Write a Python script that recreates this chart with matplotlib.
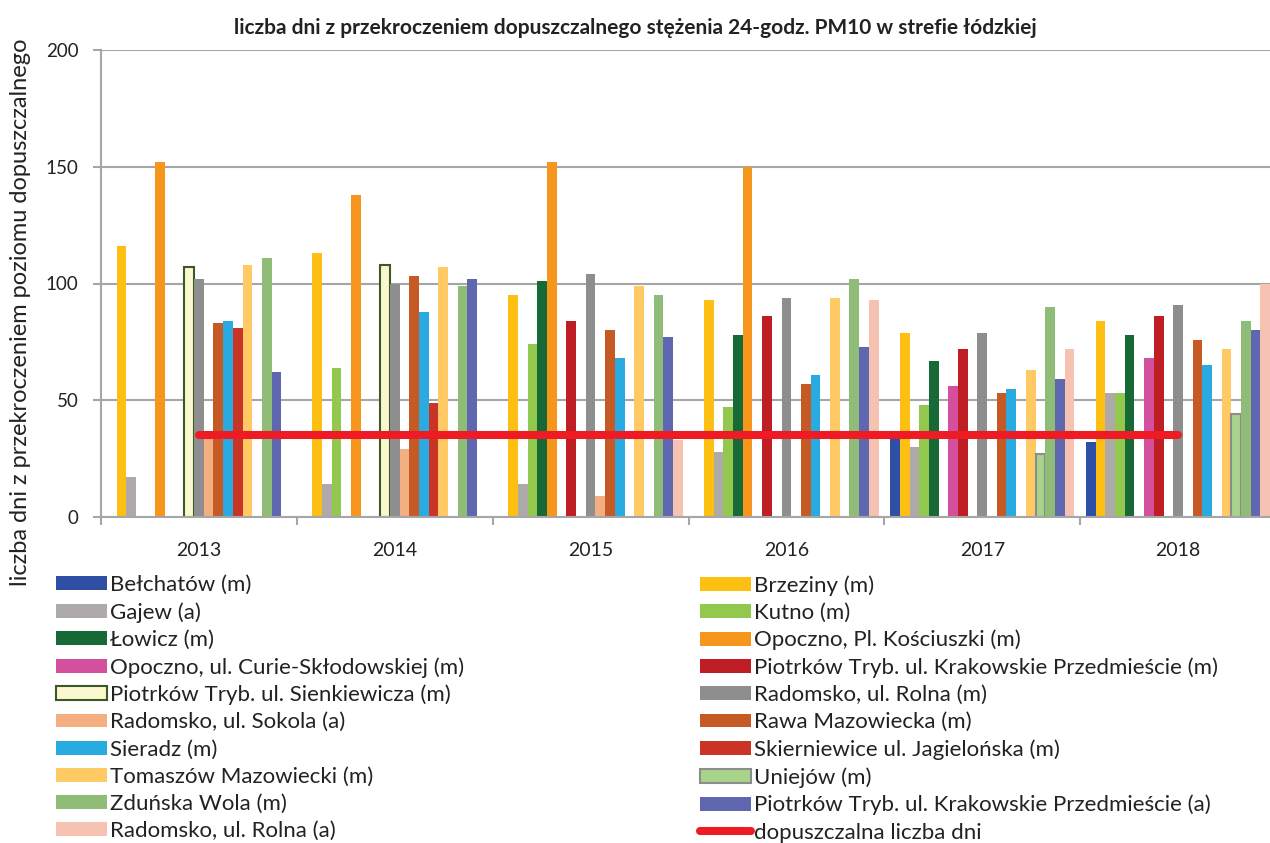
import numpy as np
import matplotlib
matplotlib.use("Agg")
import matplotlib.pyplot as plt

plt.rcParams["font.family"] = ["Lato", "DejaVu Sans"]

nan = np.nan
years = ["2013", "2014", "2015", "2016", "2017", "2018"]

# days over the 24h PM10 limit, per station, 2013..2018 (nan = no measurement)
belchatow = [nan, nan, nan, nan, 34, 32]
brzeziny = [116, 113, 95, 93, 79, 84]
gajew = [17, 14, 14, 28, 30, 53]
kutno = [nan, 64, 74, 47, 48, 53]
lowicz = [nan, nan, 101, 78, 67, 78]
opoczno_pl = [152, 138, 152, 150, nan, nan]
opoczno_curie = [nan, nan, nan, nan, 56, 68]
piotrkow_krak_m = [nan, nan, 84, 86, 72, 86]
piotrkow_sienk = [107, 108, nan, nan, nan, nan]
radomsko_rolna_m = [102, 100, 104, 94, 79, 91]
radomsko_sokola = [34, 29, 9, nan, nan, nan]
rawa = [83, 103, 80, 57, 53, 76]
sieradz = [84, 88, 68, 61, 55, 65]
skierniewice = [81, 49, nan, nan, nan, nan]
tomaszow = [108, 107, 99, 94, 63, 72]
uniejow = [nan, nan, nan, nan, 27, 44]
zdunska = [111, 99, 95, 102, 90, 84]
piotrkow_krak_a = [62, 102, 77, 73, 59, 80]
radomsko_rolna_a = [nan, nan, 33, 93, 72, 100]

limit_days = [35, 35, 35, 35, 35, 35]

series = [
    ("Bełchatów (m)", belchatow, "#2E4FA3", None),
    ("Brzeziny (m)", brzeziny, "#FDBF11", None),
    ("Gajew (a)", gajew, "#AEAAAA", None),
    ("Kutno (m)", kutno, "#92C84E", None),
    ("Łowicz (m)", lowicz, "#176935", None),
    ("Opoczno, Pl. Kościuszki (m)", opoczno_pl, "#F7961D", None),
    ("Opoczno, ul. Curie-Skłodowskiej (m)", opoczno_curie, "#D5509C", None),
    ("Piotrków Tryb. ul. Krakowskie Przedmieście (m)", piotrkow_krak_m, "#BE1E24", None),
    ("Piotrków Tryb. ul. Sienkiewicza (m)", piotrkow_sienk, "#FAF7CF", "#3A5A25"),
    ("Radomsko, ul. Rolna (m)", radomsko_rolna_m, "#8E8E8E", None),
    ("Radomsko, ul. Sokola (a)", radomsko_sokola, "#F3AE82", None),
    ("Rawa Mazowiecka (m)", rawa, "#C55A25", None),
    ("Sieradz (m)", sieradz, "#29ABE2", None),
    ("Skierniewice ul. Jagielońska (m)", skierniewice, "#CA3427", None),
    ("Tomaszów Mazowiecki (m)", tomaszow, "#FFCA64", None),
    ("Uniejów (m)", uniejow, "#A8D38A", "#8C8C8C"),
    ("Zduńska Wola (m)", zdunska, "#8FBC76", None),
    ("Piotrków Tryb. ul. Krakowskie Przedmieście (a)", piotrkow_krak_a, "#5F67B0", None),
    ("Radomsko, ul. Rolna (a)", radomsko_rolna_a, "#F6C2B1", None),
]

fig = plt.figure(figsize=(12.7, 8.43), dpi=100)
ax = fig.add_axes([101 / 1270, 1 - 517 / 843, 1175 / 1270, 467 / 843])

x = np.arange(len(years))
w = 0.0495
n = len(series)
handles = []
for j, (name, vals, color, edge) in enumerate(series):
    offs = (j - (n - 1) / 2) * w
    if edge:
        b = ax.bar(x + offs, vals, w, color=color, edgecolor=edge, linewidth=1.5,
                   label=name, zorder=2)
    else:
        b = ax.bar(x + offs, vals, w, color=color, label=name, zorder=2)
    handles.append(b)

line, = ax.plot(x, limit_days, color="#ED1C24", lw=5.8, solid_capstyle="round",
                zorder=3, label="dopuszczalna liczba dni")

ax.set_xlim(-0.5, 5.5)
ax.set_ylim(0, 200)
ax.set_yticks([0, 50, 100, 150, 200])
ax.yaxis.grid(True, color="#A6A6A6", lw=1.5, zorder=0)
ax.set_axisbelow(True)
ax.set_xticks(x)
ax.set_xticklabels(years)
ax.set_xticks(np.arange(-0.5, 6, 1), minor=True)
ax.tick_params(axis="x", which="major", length=0, labelsize=14, pad=18, colors="#222222")
ax.tick_params(axis="x", which="minor", length=5.8, width=1.5, color="#A6A6A6")
ax.tick_params(axis="y", length=5.8, width=1.5, color="#A6A6A6", labelsize=13.5, pad=10.5,
               labelcolor="#222222")
for s in ["top", "right"]:
    ax.spines[s].set_visible(False)
for s in ["left", "bottom"]:
    ax.spines[s].set_color("#A6A6A6")
    ax.spines[s].set_linewidth(1.5)

ax.set_ylabel("liczba dni z przekroczeniem poziomu dopuszczalnego", fontsize=17,
              color="#222222")
ax.yaxis.set_label_coords(-0.0595, 0.439)
fig.text(0.5, 1 - 28 / 843, "liczba dni z przekroczeniem dopuszczalnego stężenia 24-godz. PM10 w strefie łódzkiej",
         ha="center", va="center", fontsize=15, fontweight="bold", color="#222222")

left = [handles[i] for i in range(0, n, 2)]
right = [handles[i] for i in range(1, n, 2)] + [line]
kw = dict(frameon=False, fontsize=16, handlelength=2.3, handleheight=0.59,
          handletextpad=0.12, labelspacing=0.32, borderaxespad=0, borderpad=0,
          loc="upper left")
leg1 = fig.legend(left, [h.get_label() for h in left], bbox_to_anchor=(56 / 1270, 1 - 575 / 843), **kw)
leg2 = fig.legend(right, [h.get_label() for h in right], bbox_to_anchor=(700 / 1270, 1 - 575 / 843), **kw)
for t in leg1.get_texts() + leg2.get_texts():
    t.set_color("#222222")

fig.savefig("out.png", dpi=100)
